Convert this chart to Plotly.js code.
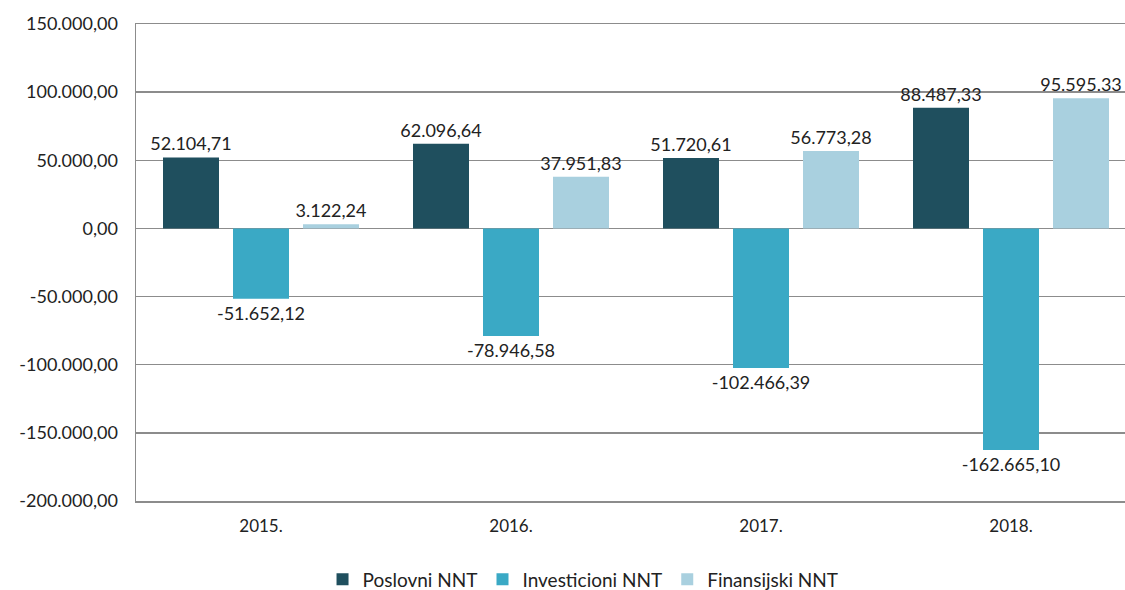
<!DOCTYPE html>
<html>
<head>
<meta charset="utf-8">
<script src="https://cdn.plot.ly/plotly-3.0.1.min.js"></script>
<style>html,body{margin:0;padding:0;background:#fff;}#chart{width:1125px;height:590px;}</style>
</head>
<body>
<div id="chart"></div>
<script>
const categories = ['2015.', '2016.', '2017.', '2018.'];
const seriesNames = ['Poslovni NNT', 'Investicioni NNT', 'Finansijski NNT'];
const poslovni = [52104.71, 62096.64, 51720.61, 88487.33];
const investicioni = [-51652.12, -78946.58, -102466.39, -162665.10];
const finansijski = [3122.24, 37951.83, 56773.28, 95595.33];
const poslovniLabels = ['52.104,71', '62.096,64', '51.720,61', '88.487,33'];
const investicioniLabels = ['-51.652,12', '-78.946,58', '-102.466,39', '-162.665,10'];
const finansijskiLabels = ['3.122,24', '37.951,83', '56.773,28', '95.595.33'];
const tickVals = [150000, 100000, 50000, 0, -50000, -100000, -150000, -200000];
const tickLabels = ['150.000,00', '100.000,00', '50.000,00', '0,00', '-50.000,00', '-100.000,00', '-150.000,00', '-200.000,00'];

const colors = ['#1f4f5e', '#3aa9c5', '#a9d0df'];
const values = [poslovni, investicioni, finansijski];
const labels = [poslovniLabels, investicioniLabels, finansijskiLabels];

const fontFam = 'Lato, "Open Sans", sans-serif';
const traces = seriesNames.map((n, i) => ({
  type: 'bar',
  name: n,
  x: categories,
  y: values[i],
  text: labels[i],
  textposition: 'outside',
  constraintext: 'none',
  cliponaxis: false,
  textfont: {family: fontFam, size: 18, color: '#222'},
  marker: {color: colors[i], line: {width: 0}},
  hoverinfo: 'none'
}));

const layout = {
  width: 1125, height: 590,
  margin: {l: 136, r: 0, t: 24, b: 89},
  paper_bgcolor: '#fff', plot_bgcolor: '#fff',
  font: {family: fontFam, size: 16, color: '#222'},
  barmode: 'group',
  bargap: 0.16,
  bargroupgap: 0.2,
  showlegend: true,
  legend: {orientation: 'h', x: 0.452, xanchor: 'center', yref: 'container', y: 0.018, yanchor: 'middle',
           font: {family: fontFam, size: 19, color: '#222'}, itemwidth: 30, tracegroupgap: 0},
  xaxis: {
    type: 'category',
    range: [-0.5, 3.456],
    showgrid: false, zeroline: false,
    showline: true, mirror: true, linecolor: '#8c8c8c', linewidth: 1.5,
    ticks: 'outside', ticklen: 9, tickcolor: 'rgba(0,0,0,0)',
    tickfont: {family: fontFam, size: 17, color: '#222'}
  },
  yaxis: {
    range: [-200000, 150000],
    tickvals: tickVals, ticktext: tickLabels,
    showgrid: true, gridcolor: '#8c8c8c', gridwidth: 1.5,
    zeroline: true, zerolinecolor: '#8c8c8c', zerolinewidth: 1.5,
    showline: true, linecolor: '#8c8c8c', linewidth: 1.5,
    ticks: 'outside', ticklen: 13, tickcolor: 'rgba(0,0,0,0)',
    tickfont: {family: fontFam, size: 18, color: '#222'}
  }
};

Plotly.newPlot('chart', traces, layout, {displayModeBar: false, staticPlot: true});
</script>
</body>
</html>
